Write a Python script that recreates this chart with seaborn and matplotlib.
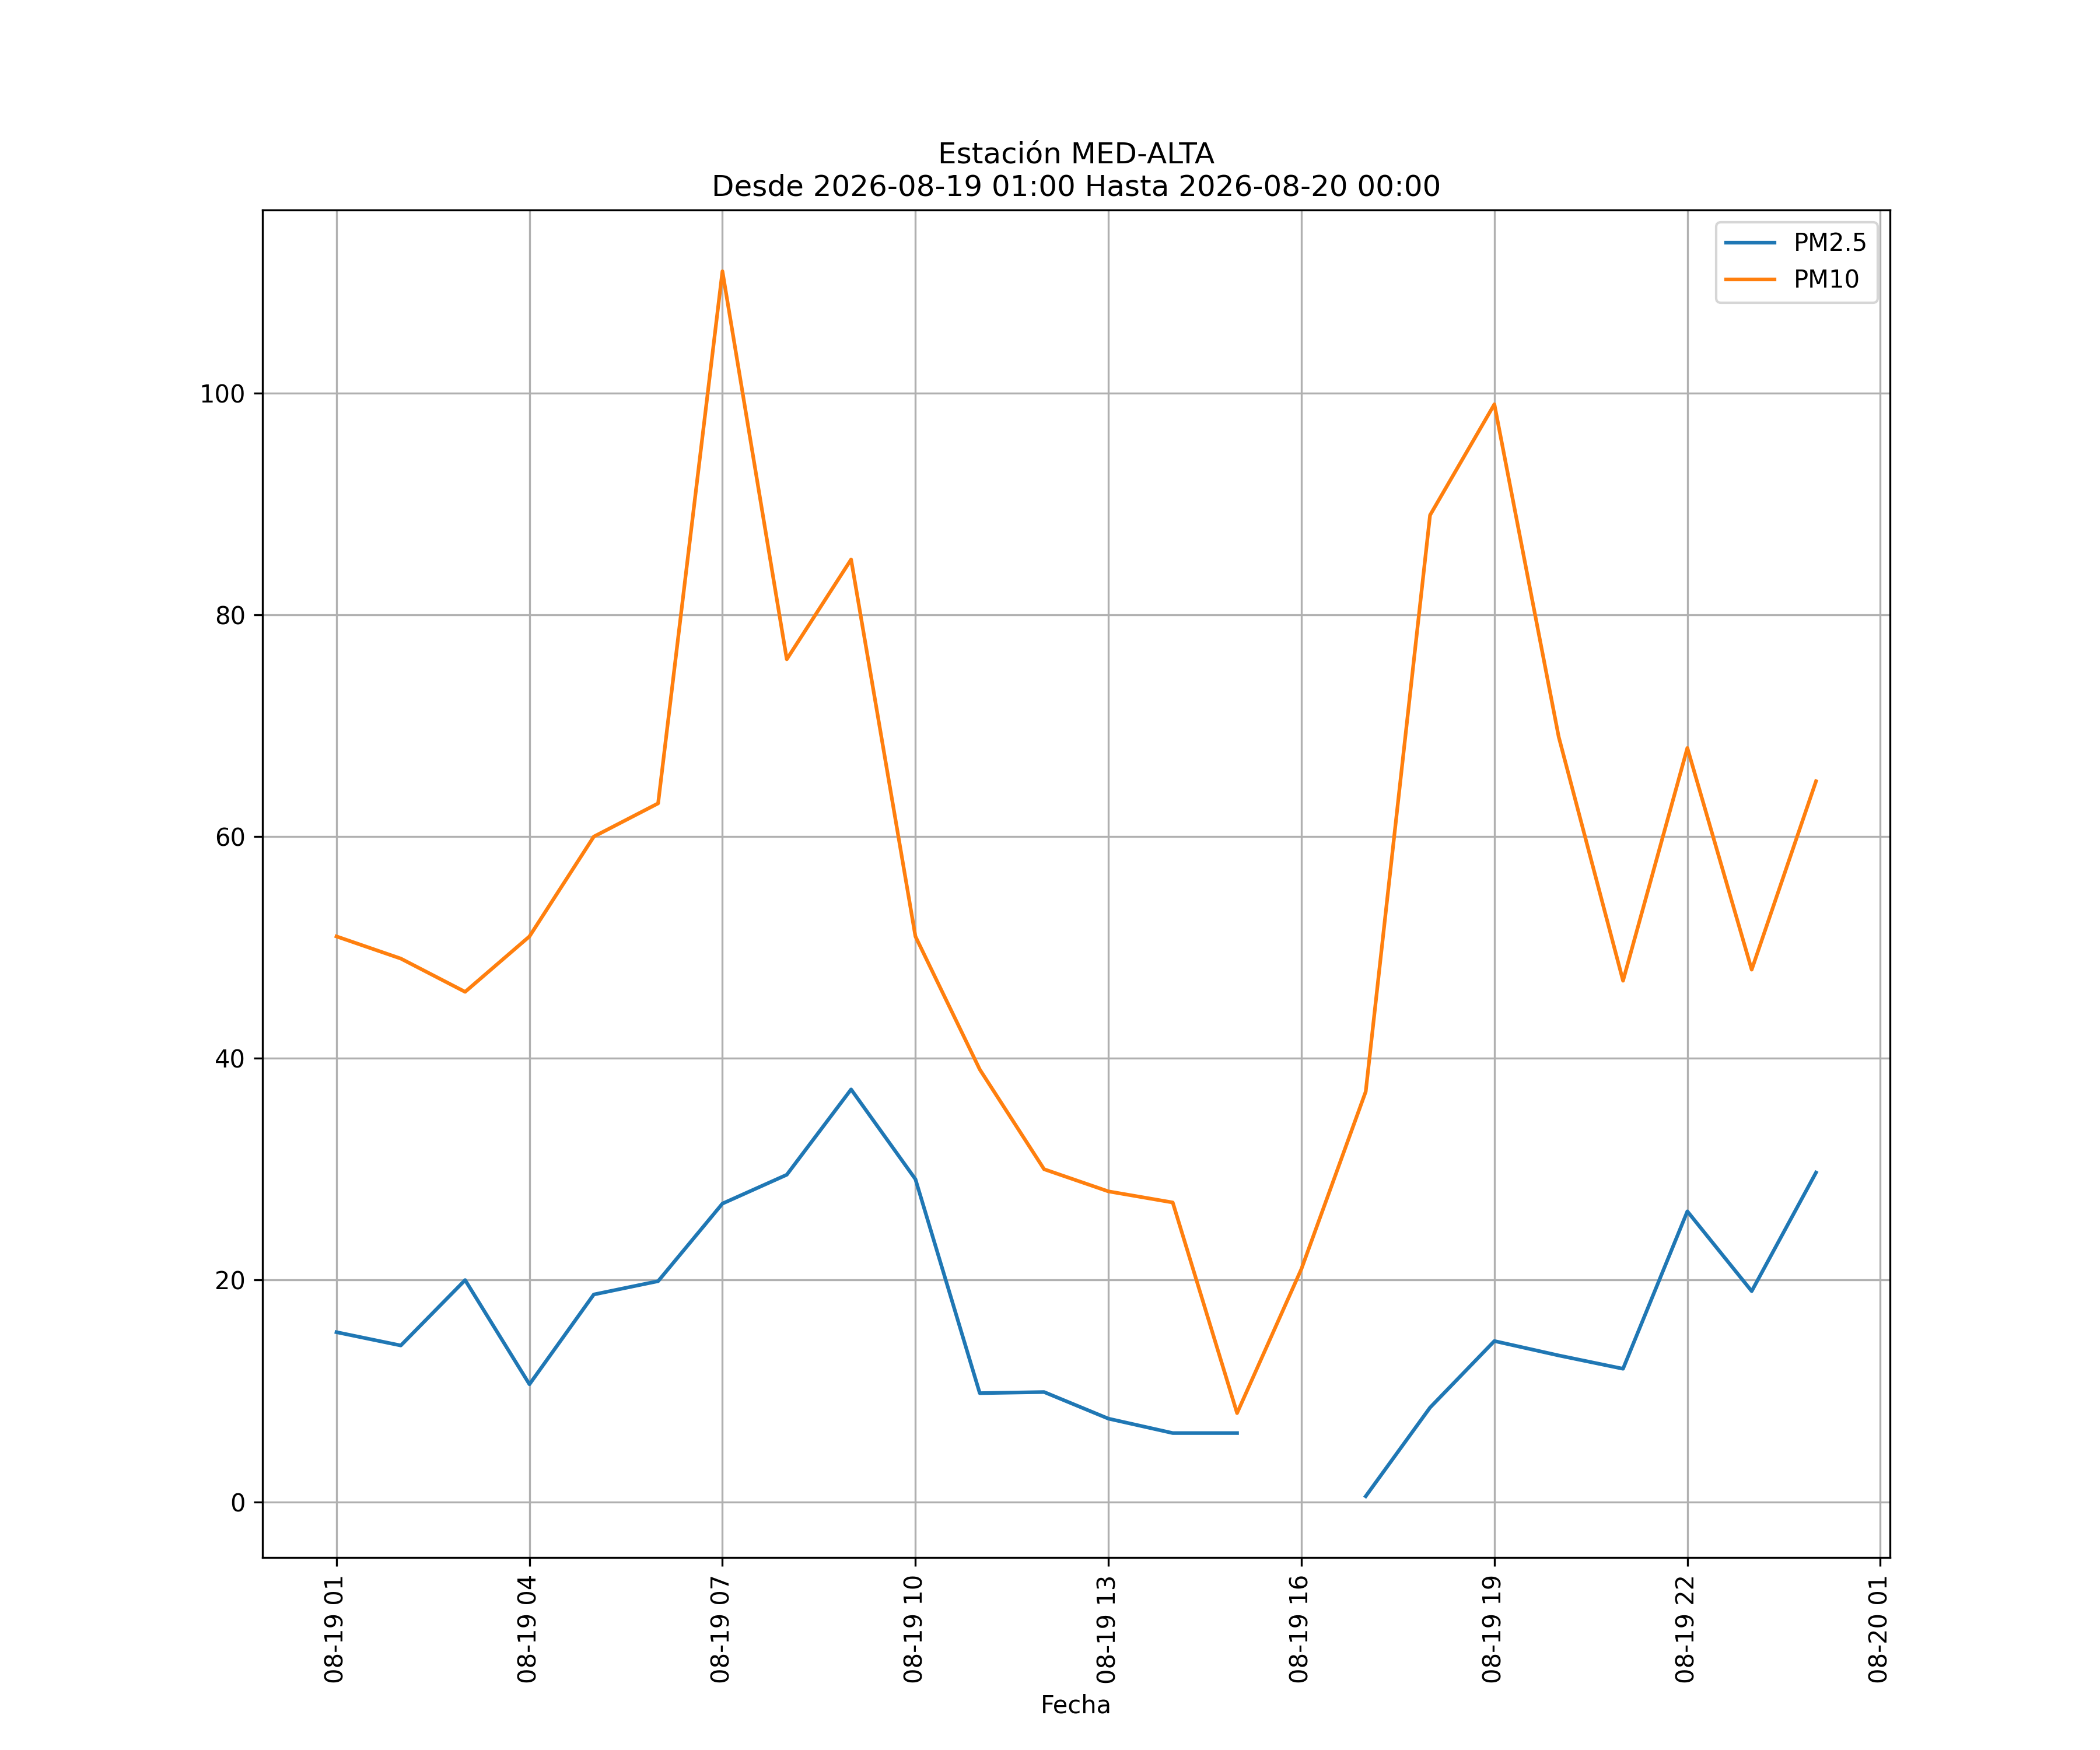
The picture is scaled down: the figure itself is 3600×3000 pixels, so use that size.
import seaborn as sns
import matplotlib.pyplot as plt
import matplotlib.dates as mdates
import numpy as np
import pandas as pd

fechas = pd.date_range('2026-08-19 01:00', '2026-08-20 00:00', freq='h')

pm25 = [15.3, 14.1, 20.0, 10.6, 18.7, 19.9, 26.9, 29.5, 37.2, 29.1, 9.8, 9.9,
        7.5, 6.2, 6.2, np.nan, 0.5, 8.5, 14.5, 13.2, 12.0, 26.2, 19.0, 29.7]
pm10 = [51, 49, 46, 51, 60, 63, 111, 76, 85, 51, 39, 30,
        28, 27, 8, 21, 37, 89, 99, 69, 47, 68, 48, 65]

estacion = 'MED-ALTA'
desde = '2026-08-19 01:00'
hasta = '2026-08-20 00:00'

df = pd.DataFrame({'PM2.5': pm25, 'PM10': pm10}, index=fechas)
df.index.name = 'Fecha'

# formato largo; cada tramo sin datos faltantes es una unidad aparte
# para que la linea se corte donde hay NaN
largo = df.reset_index().melt(id_vars='Fecha', var_name='serie', value_name='valor')
largo['tramo'] = largo.groupby('serie')['valor'].transform(lambda s: s.isna().cumsum())
largo['tramo'] = largo['serie'] + '_' + largo['tramo'].astype(str)
largo = largo.dropna(subset=['valor'])

fig, ax = plt.subplots()
fig.set_figheight(10)
fig.set_figwidth(12)

ax = sns.lineplot(data=largo, x='Fecha', y='valor', hue='serie', units='tramo',
                  estimator=None, hue_order=['PM2.5', 'PM10'], ax=ax)
ax.grid(True)
ax.set_title('Estación ' + estacion + '\nDesde ' + desde + ' Hasta ' + hasta)
ax.set_xlabel('Fecha')
ax.set_ylabel('')
ax.xaxis.set_major_locator(mdates.HourLocator(byhour=range(1, 24, 3)))
ax.xaxis.set_major_formatter(mdates.DateFormatter('%m-%d %H'))
ax.tick_params(axis='x', rotation=90)
sns.move_legend(ax, 'upper right', title=None)

fig.savefig('out.png', dpi=300)
plt.close(fig)
